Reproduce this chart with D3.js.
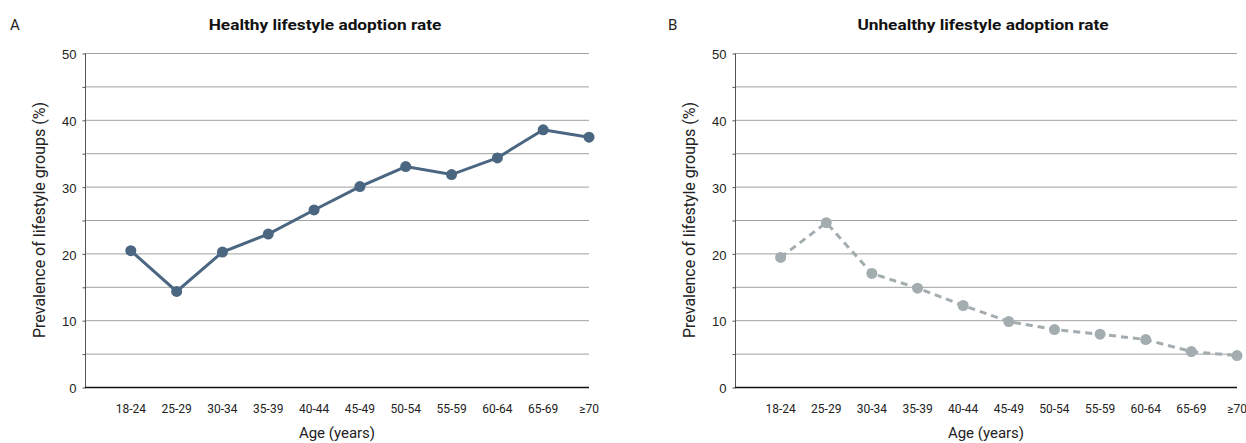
<!DOCTYPE html>
<html>
<head>
<meta charset="utf-8">
<script src="https://cdn.jsdelivr.net/npm/d3@7"></script>
<style>
  body { margin: 0; background: #fff; }
  svg { display: block; font-family: Roboto, "Noto Sans", sans-serif; }
</style>
</head>
<body>
<svg width="1246" height="443"></svg>
<script>
let ageGroups = ['18-24', '25-29', '30-34', '35-39', '40-44', '45-49', '50-54', '55-59', '60-64', '65-69', '≥70']
let healthyRate = [20.4, 14.3, 20.2, 22.9, 26.5, 30.0, 33.0, 31.8, 34.3, 38.5, 37.4]
let unhealthyRate = [19.4, 24.6, 17.0, 14.8, 12.2, 9.8, 8.6, 7.9, 7.1, 5.3, 4.7]
let yTicks = [0, 10, 20, 30, 40, 50]
let yMinor = [5, 15, 25, 35, 45]

let svg = d3.select('svg')

let drawPanel = (opts) => {
    let left = opts.left
    let right = opts.right
    let top = 53
    let bottom = 387

    let xScale = d3.scaleLinear()
        .domain([0, ageGroups.length])
        .range([left, right])

    let yScale = d3.scaleLinear()
        .domain([0, 50])
        .range([bottom, top])

    let g = svg.append('g')

    // gridlines every 5
    g.selectAll('line.grid')
        .data(yTicks.concat(yMinor).filter(d => d > 0))
        .enter()
        .append('line')
        .attr('x1', left)
        .attr('x2', right)
        .attr('y1', d => yScale(d) + 0.5)
        .attr('y2', d => yScale(d) + 0.5)
        .attr('stroke', '#a0a0a0')
        .attr('stroke-width', 1)

    // y axis
    let yAxis = d3.axisLeft(yScale)
        .tickValues(yTicks.concat(yMinor).sort((a, b) => a - b))
        .tickFormat(d => yTicks.includes(d) ? d : '')
        .tickSize(3)
        .tickPadding(6)

    let ya = g.append('g')
        .attr('transform', 'translate(' + (left + 0.5) + ',0.5)')
        .call(yAxis)
    ya.select('.domain').attr('stroke', '#555').attr('d', 'M0,' + top + 'V' + bottom)
    ya.selectAll('.tick line').attr('stroke', '#555')
    ya.selectAll('.tick text')
        .attr('fill', '#222')
        .style('font-size', '13px')
        .attr('dy', '0.4em')

    // x axis labels
    g.selectAll('text.xlab')
        .data(ageGroups)
        .enter()
        .append('text')
        .attr('x', (d, i) => xScale(i + 1))
        .attr('y', 413)
        .attr('text-anchor', 'middle')
        .attr('fill', '#222')
        .style('font-size', '12px')
        .text(d => d)

    // zero line
    g.append('line')
        .attr('x1', left)
        .attr('x2', right)
        .attr('y1', yScale(0) + 0.5)
        .attr('y2', yScale(0) + 0.5)
        .attr('stroke', '#111')
        .attr('stroke-width', 1.5)

    let line = d3.line()
        .x((d, i) => xScale(i + 1))
        .y(d => yScale(d))

    g.append('path')
        .datum(opts.values)
        .attr('d', line)
        .attr('fill', 'none')
        .attr('stroke', opts.color)
        .attr('stroke-width', 3)
        .attr('stroke-dasharray', opts.dash || null)

    g.selectAll('circle')
        .data(opts.values)
        .enter()
        .append('circle')
        .attr('cx', (d, i) => xScale(i + 1))
        .attr('cy', d => yScale(d))
        .attr('r', 5.5)
        .attr('fill', opts.color)

    // titles
    let title = g.append('text')
        .attr('x', opts.titleX)
        .attr('y', 30)
        .attr('text-anchor', 'middle')
        .attr('font-weight', 'bold')
        .attr('fill', '#111')
        .style('font-size', '15px')
        .text(opts.title)
    let tl = title.node().getComputedTextLength()
    title.attr('textLength', tl * 1.15).attr('lengthAdjust', 'spacingAndGlyphs')

    g.append('text')
        .attr('x', opts.letterX)
        .attr('y', 30)
        .attr('fill', '#222')
        .style('font-size', '15px')
        .text(opts.letter)

    g.append('text')
        .attr('transform', 'translate(' + (left - 40) + ',' + ((top + bottom) / 2) + ') rotate(-90)')
        .attr('text-anchor', 'middle')
        .attr('fill', '#222')
        .style('font-size', '16px')
        .text('Prevalence of lifestyle groups (%)')

    g.append('text')
        .attr('x', (left + right) / 2)
        .attr('y', 438)
        .attr('text-anchor', 'middle')
        .attr('fill', '#222')
        .style('font-size', '15px')
        .text('Age (years)')
}

drawPanel({
    left: 85, right: 589, values: healthyRate, color: '#4a6681',
    title: 'Healthy lifestyle adoption rate', titleX: 325, letter: 'A', letterX: 10
})

drawPanel({
    left: 735, right: 1237, values: unhealthyRate, color: '#a3acaf', dash: '7,5',
    title: 'Unhealthy lifestyle adoption rate', titleX: 983, letter: 'B', letterX: 668
})
</script>
</body>
</html>
